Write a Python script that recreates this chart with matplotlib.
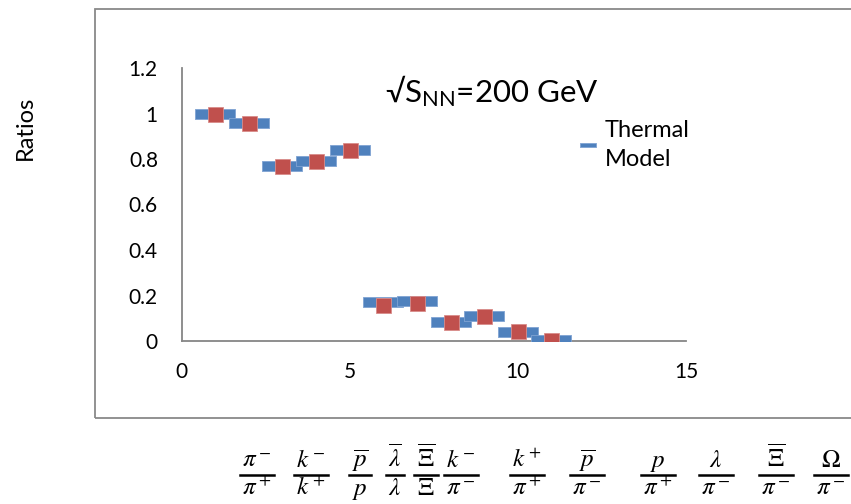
import matplotlib
matplotlib.use("Agg")
import matplotlib.pyplot as plt
from matplotlib.patches import Rectangle
from matplotlib.lines import Line2D

plt.rcParams['font.family'] = ['Lato', 'DejaVu Sans']
plt.rcParams['mathtext.fontset'] = 'custom'
plt.rcParams['mathtext.rm'] = 'Lato'
plt.rcParams['mathtext.it'] = 'Lato:italic'

# data
x_index = [1, 2, 3, 4, 5, 6, 7, 8, 9, 10, 11]
thermal = [1.00, 0.96, 0.77, 0.79, 0.84, 0.17, 0.178, 0.084, 0.11, 0.038, 0.004]
measured = [1.00, 0.96, 0.77, 0.79, 0.84, 0.16, 0.169, 0.084, 0.109, 0.046, 0.005]
ratio_num = [r'$\pi^-$', r'$k^-$', r'$\overline{p}$', r'$\overline{\lambda}$',
             r'$\overline{\Xi}$', r'$k^-$', r'$k^+$', r'$\overline{p}$',
             r'$p$', r'$\lambda$', r'$\overline{\Xi}$', r'$\Omega$']
ratio_den = [r'$\pi^+$', r'$k^+$', r'$p$', r'$\lambda$', r'$\Xi$', r'$\pi^-$',
             r'$\pi^+$', r'$\pi^-$', r'$\pi^+$', r'$\pi^-$', r'$\pi^-$', r'$\pi^-$']
label_x_px = [257, 311, 360, 395, 426, 461, 527, 587, 658, 716, 776, 831]

W, H = 851, 504
fig = plt.figure(figsize=(W / 100, H / 100), dpi=100)
ax = fig.add_axes([181.5 / W, (H - 341) / H, (686 - 181.5) / W, (341 - 68) / H])

blue = '#4F81BD'
red = '#C0504D'
gray = '#868686'

# wide flat dash marker for the thermal model
dash = [(-1, -0.23), (1, -0.23), (1, 0.23), (-1, 0.23), (-1, -0.23)]
ax.plot(x_index, thermal, linestyle='none', marker=dash, markersize=29.5,
        markerfacecolor=blue, markeredgecolor='#7FA3D3', markeredgewidth=0.6,
        label='Thermal\nModel', zorder=3)
ax.plot(x_index, measured, linestyle='none', marker='s', markersize=10.8,
        markerfacecolor=red, markeredgecolor='#D98C8A', markeredgewidth=0.6,
        zorder=4)

ax.set_xlim(0, 15)
ax.set_ylim(0, 1.2)
ax.set_xticks([0, 5, 10, 15])
ax.set_yticks([0, 0.2, 0.4, 0.6, 0.8, 1.0, 1.2])
ax.set_yticklabels(['0', '0.2', '0.4', '0.6', '0.8', '1', '1.2'])
ax.tick_params(length=0, labelsize=15)
ax.tick_params(axis='y', pad=17)
ax.tick_params(axis='x', pad=15)
for s in ['top', 'right']:
    ax.spines[s].set_visible(False)
for s in ['left', 'bottom']:
    ax.spines[s].set_color(gray)
    ax.spines[s].set_linewidth(1.3)

leg = ax.legend(loc='upper left', bbox_to_anchor=(580 / W, 1 - 120 / H),
                bbox_transform=fig.transFigure, frameon=False, fontsize=17,
                markerscale=0.39, handlelength=0.7, handletextpad=0.35,
                borderpad=0, borderaxespad=0, labelspacing=0.2)
leg.get_texts()[0].set_linespacing(1.45)

fig.text(385 / W, 1 - 91 / H, r'√S$_{\mathrm{NN}}$=200 GeV', fontsize=22.5,
         va='center', ha='left')
fig.text(25 / W, 1 - 128 / H, 'Ratios', rotation=90, fontsize=17,
         ha='center', va='center')

# particle ratio labels under the chart, built as stacked fractions
pairs = []
for num, den, px in zip(ratio_num, ratio_den, label_x_px):
    tn = fig.text(px / W, 1 - 467 / H, num, fontsize=18, ha='center',
                  va='baseline', math_fontfamily='stix')
    td = fig.text(px / W, 1 - 495 / H, den, fontsize=18, ha='center',
                  va='baseline', math_fontfamily='stix')
    pairs.append((tn, td, px))

fig.canvas.draw()
renderer = fig.canvas.get_renderer()
for tn, td, px in pairs:
    w = max(tn.get_window_extent(renderer).width,
            td.get_window_extent(renderer).width) + 5
    fig.add_artist(Line2D([(px - w / 2) / W, (px + w / 2) / W],
                          [1 - 475 / H, 1 - 475 / H],
                          transform=fig.transFigure, color='black', lw=1.8))

# outer chart frame (open on the right)
fig.patches.append(Rectangle((95 / W, (H - 418) / H), 1.0, (418 - 9) / H,
                             transform=fig.transFigure, fill=False,
                             edgecolor='#898989', linewidth=1.3))

fig.savefig('out.png', dpi=100)
